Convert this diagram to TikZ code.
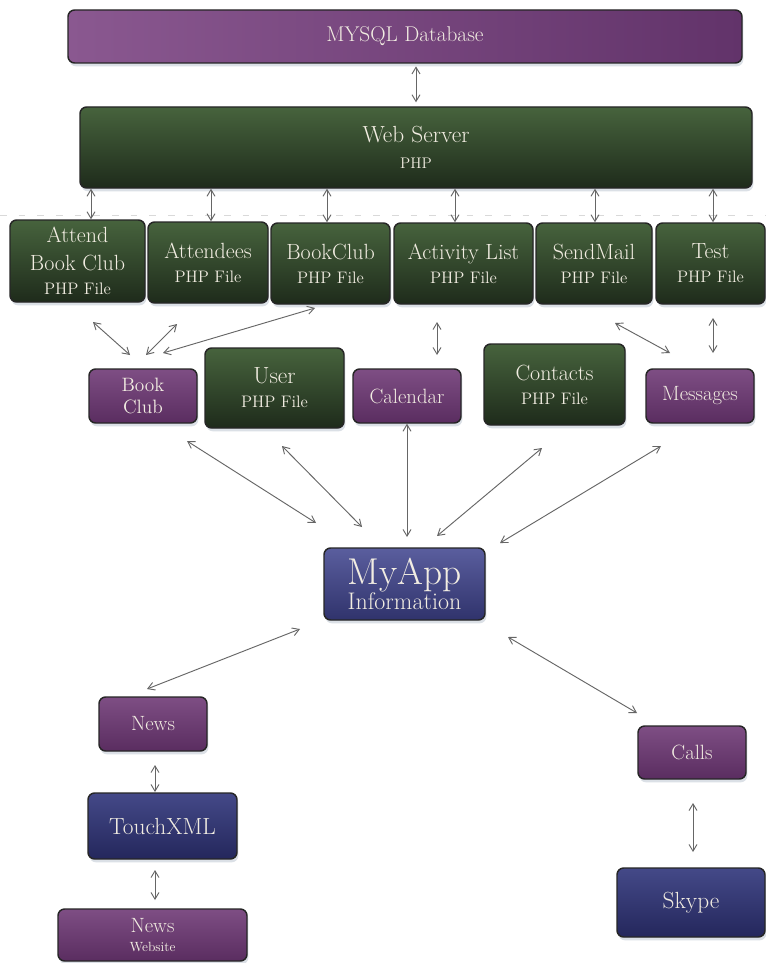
\documentclass[tikz,border=0pt]{standalone}
\usetikzlibrary{arrows.meta,shadows}
\definecolor{txt}{HTML}{F2EDE2}
\definecolor{purA}{HTML}{8A5890}
\definecolor{purB}{HTML}{62336A}
\definecolor{purC}{HTML}{7E4E84}
\definecolor{purD}{HTML}{5A2D60}
\definecolor{grnA}{HTML}{47633D}
\definecolor{grnB}{HTML}{1E2B1B}
\definecolor{bluA}{HTML}{5A5E9E}
\definecolor{bluB}{HTML}{30336C}
\definecolor{bluC}{HTML}{444988}
\definecolor{bluD}{HTML}{24275C}
\definecolor{shd}{HTML}{9AA8B8}
\newcommand\fsub{\fontsize{12.5}{14}\selectfont}
\begin{document}
\begin{tikzpicture}[x=0.75pt,y=-0.75pt,
  box/.style={draw=black!85, line width=1.1pt, rounded corners=5pt, text=txt,
    align=center, inner sep=0pt,
    drop shadow={opacity=0.35, shadow xshift=1pt, shadow yshift=-2.5pt, fill=shd}},
  sz/.style 2 args={minimum width=#1*0.75pt, minimum height=#2*0.75pt},
  purpbig/.style={box, left color=purA, right color=purB},
  purp/.style={box, top color=purC, bottom color=purD},
  grn/.style={box, top color=grnA, bottom color=grnB},
  blu/.style={box, top color=bluA, bottom color=bluB},
  bludk/.style={box, top color=bluC, bottom color=bluD},
  php/.style={grn, font=\fontsize{16.5}{18}\selectfont},
  arr/.style={{Straight Barb[length=5pt,width=6pt]}-{Straight Barb[length=5pt,width=6pt]},
    draw=black!60, line width=0.7pt}
]
\useasboundingbox[fill=white] (0,0) rectangle (766,963);

% faint dashed guide line
\draw[black!15, dash pattern=on 5pt off 9pt, line width=0.6pt] (0,215) -- (766,215);

% nodes
\node[purpbig, sz={674}{53}, font=\fontsize{16}{18}\selectfont] (mysql) at (405,36.5) {MYSQL Database};
\node[grn, sz={672}{81}, font=\fontsize{17.5}{19}\selectfont] (web) at (416,147.5) {Web Server\\{\fontsize{11.5}{13}\selectfont PHP}};

\node[php, sz={135}{82}] (attend) at (77.5,261) {Attend\\[3pt]Book Club\\{\fsub PHP File}};
\node[php, sz={120}{81}] (attendees) at (208,262.5) {Attendees\\{\fsub PHP File}};
\node[php, sz={119}{81}] (bcphp) at (330.5,263.5) {BookClub\\{\fsub PHP File}};
\node[php, sz={139}{81}] (activity) at (463.5,263.5) {Activity List\\{\fsub PHP File}};
\node[php, sz={116}{81}] (sendmail) at (594,263.5) {SendMail\\{\fsub PHP File}};
\node[php, sz={109}{81}] (test) at (710.5,263.5) {Test\\{\fsub PHP File}};

\node[purp, sz={108}{54}, font=\fontsize{14.5}{17}\selectfont] (bookclub) at (143,396) {Book\\Club};
\node[php, sz={139}{80}, font=\fontsize{17.5}{18}\selectfont] (user) at (274.5,388) {User\\{\fsub PHP File}};
\node[purp, sz={108}{54}, font=\fontsize{15.5}{17}\selectfont] (calendar) at (407,396) {Calendar};
\node[php, sz={141}{81}] (contacts) at (554.5,384.5) {Contacts\\{\fsub PHP File}};
\node[purp, sz={108}{54}, font=\fontsize{15.5}{17}\selectfont] (messages) at (700,396) {Messages};

\node[blu, sz={161}{72}, font=\fontsize{18}{17.5}\selectfont] (myapp) at (404.5,584) {{\fontsize{28}{28}\selectfont MyApp}\\Information};

\node[purp, sz={108}{54}, font=\fontsize{15.5}{17}\selectfont] (news) at (153,724) {News};
\node[bludk, sz={149}{66}, font=\fontsize{17.5}{18}\selectfont] (touch) at (162.5,826) {TouchXML};
\node[purp, sz={189}{52}, font=\fontsize{15.5}{14.5}\selectfont] (newsweb) at (152.5,935) {News\\{\fontsize{10}{11}\selectfont Website}};
\node[purp, sz={108}{53}, font=\fontsize{15.5}{17}\selectfont] (calls) at (692,752.5) {Calls};
\node[bludk, sz={148}{69}, font=\fontsize{17.5}{18}\selectfont] (skype) at (691,902.5) {Skype};

% connector x positions
\coordinate (x0) at (416,0);
\coordinate (x1) at (91,0);
\coordinate (x2) at (211,0);
\coordinate (x3) at (327,0);
\coordinate (x4) at (455,0);
\coordinate (x5) at (595,0);
\coordinate (x6) at (713,0);

\draw[arr, shorten <=2pt, shorten >=3pt] (mysql.south -| x0) -- (web.north -| x0);
\draw[arr] (web.south -| x1) -- (attend.north -| x1);
\draw[arr] (web.south -| x2) -- (attendees.north -| x2);
\draw[arr] (web.south -| x3) -- (bcphp.north -| x3);
\draw[arr] (web.south -| x4) -- (activity.north -| x4);
\draw[arr] (web.south -| x5) -- (sendmail.north -| x5);
\draw[arr] (web.south -| x6) -- (test.north -| x6);

% free-floating connector ends
\coordinate (a1s) at (93,322);  \coordinate (a1e) at (130,355);
\coordinate (a2s) at (177,324); \coordinate (a2e) at (146,355);
\coordinate (a3s) at (315,308); \coordinate (a3e) at (163,353);
\coordinate (a4s) at (437,322); \coordinate (a4e) at (437,355);
\coordinate (a5s) at (615,323); \coordinate (a5e) at (670,353);
\coordinate (a6s) at (713,318); \coordinate (a6e) at (713,353);
\draw[arr] (a1s) -- (a1e);
\draw[arr] (a2s) -- (a2e);
\draw[arr] (a3s) -- (a3e);
\draw[arr] (a4s) -- (a4e);
\draw[arr] (a5s) -- (a5e);
\draw[arr] (a6s) -- (a6e);

\coordinate (b1s) at (187,441); \coordinate (b1e) at (316,523);
\coordinate (b2s) at (282,446); \coordinate (b2e) at (362,527);
\coordinate (b3e) at (407,537);
\coordinate (b4s) at (542,448); \coordinate (b4e) at (437,536);
\coordinate (b5s) at (661,446); \coordinate (b5e) at (500,543);
\draw[arr] (b1s) -- (b1e);
\draw[arr] (b2s) -- (b2e);
\draw[arr] (calendar.south) -- (b3e);
\draw[arr] (b4s) -- (b4e);
\draw[arr] (b5s) -- (b5e);

\coordinate (c1s) at (300,629); \coordinate (c1e) at (147,689);
\coordinate (c2s) at (508,637); \coordinate (c2e) at (637,713);
\draw[arr] (c1s) -- (c1e);
\draw[arr] (c2s) -- (c2e);

\coordinate (d1s) at (155,765); \coordinate (d1e) at (155,792);
\coordinate (d2s) at (155,870); \coordinate (d2e) at (155,900);
\coordinate (e1s) at (693,803); \coordinate (e1e) at (693,852);
\draw[arr] (d1s) -- (d1e);
\draw[arr] (d2s) -- (d2e);
\draw[arr] (e1s) -- (e1e);
\end{tikzpicture}
\end{document}
